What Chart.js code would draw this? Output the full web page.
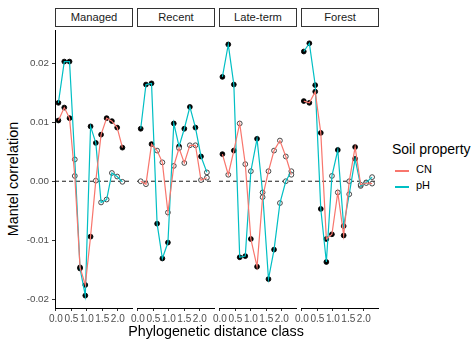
<!DOCTYPE html>
<html>
<head>
<meta charset="utf-8">
<script src="https://cdn.jsdelivr.net/npm/chart.js@4.4.0/dist/chart.umd.min.js"></script>
<style>
  body { margin: 0; background: #fff; font-family: 'Liberation Sans', Arial, sans-serif; }
  #wrap { position: relative; width: 475px; height: 342px; overflow: hidden; }
  canvas { position: absolute; }
  .strip { position: absolute; top: 8px; height: 17px; width: 76px; border: 1px solid #333; background: #fff;
           font-size: 11.2px; line-height: 17px; text-align: center; color: #1a1a1a; }
  .ytitle { position: absolute; left: 13px; top: 179px; transform: translate(-50%, -50%) rotate(-90deg);
            font-size: 14.4px; white-space: nowrap; color: #000; }
  .xtitle { position: absolute; left: 216px; top: 331px; transform: translate(-50%, -50%);
            font-size: 14.3px; white-space: nowrap; color: #000; }
  .legtitle { position: absolute; left: 392px; top: 141px; font-size: 14px; color: #000; white-space: nowrap; }
  .key { position: absolute; left: 395px; width: 14px; height: 1.5px; }
  .keylab { position: absolute; left: 416px; font-size: 11px; color: #000; }
</style>
</head>
<body>
<div id="wrap">
  <div class="ytitle">Mantel correlation</div>
  <div class="strip" style="left:55px">Managed</div>
  <div class="strip" style="left:137px">Recent</div>
  <div class="strip" style="left:219px">Late-term</div>
  <div class="strip" style="left:301px">Forest</div>
  <canvas id="p0"></canvas>
  <canvas id="p1"></canvas>
  <canvas id="p2"></canvas>
  <canvas id="p3"></canvas>
  <div class="xtitle">Phylogenetic distance class</div>
  <div class="legtitle">Soil property</div>
  <div class="key" style="top:170px;background:#F8766D"></div>
  <div class="keylab" style="top:163px">CN</div>
  <div class="key" style="top:186px;background:#00BFC4"></div>
  <div class="keylab" style="top:179px">pH</div>
</div>
<script>
const panelNames = ['Managed', 'Recent', 'Late-term', 'Forest'];
const xTicks = [0, 0.5, 1, 1.5, 2];
const yTicks = [-0.02, -0.01, 0, 0.01, 0.02];

// Managed
const distManaged = [0.08, 0.27, 0.44, 0.61, 0.78, 0.95, 1.12, 1.29, 1.46, 1.64, 1.81, 1.98, 2.15];
const cnManaged = [0.0103, 0.0125, 0.0107, 0.0009, -0.0146, -0.0176, -0.0094, 0.0001, 0.0079, 0.0107, 0.0102, 0.0091, 0.0057];
const cnSigManaged = [1, 1, 1, 0, 1, 1, 1, 0, 1, 1, 1, 1, 1];
const phManaged = [0.0133, 0.0203, 0.0203, 0.0037, -0.0148, -0.0194, 0.0093, 0.0065, -0.0036, -0.0031, 0.0014, 0.0008, -0.0001];
const phSigManaged = [1, 1, 1, 0, 1, 1, 1, 1, 0, 0, 0, 0, 0];

// Recent
const distRecent = [0.09, 0.26, 0.44, 0.62, 0.79, 0.97, 1.16, 1.33, 1.50, 1.68, 1.86, 2.04, 2.23];
const cnRecent = [0, -0.0005, 0.0063, 0.0052, 0.0032, -0.0053, 0.0026, 0.0056, 0.0031, 0.0061, 0.0061, 0.0002, 0.0006];
const cnSigRecent = [0, 0, 1, 0, 0, 0, 0, 0, 0, 0, 0, 0, 0];
const phRecent = [0.0089, 0.0164, 0.0166, -0.0072, -0.0131, -0.0104, 0.0098, 0.0059, 0.0089, 0.0126, 0.0091, 0.0042, 0.0015];
const phSigRecent = [1, 1, 1, 1, 1, 1, 1, 1, 1, 1, 1, 1, 0];

// Late-term
const distLate = [0.08, 0.27, 0.45, 0.64, 0.82, 1.00, 1.20, 1.38, 1.57, 1.75, 1.94, 2.13, 2.31];
const cnLate = [0.0046, 0.0011, 0.0052, 0.0098, 0.0029, -0.0098, -0.0145, -0.0027, 0.0017, 0.0052, 0.0069, 0.0042, 0.0011];
const cnSigLate = [1, 0, 1, 0, 0, 1, 1, 0, 0, 0, 0, 0, 0];
const phLate = [0.0177, 0.0232, 0.0164, -0.0129, -0.0127, 0.0017, 0.0072, -0.0019, -0.0166, -0.0116, -0.0037, 0, 0.0017];
const phSigLate = [1, 1, 1, 1, 1, 0, 1, 0, 1, 1, 0, 0, 0];

// Forest
const distForest = [0.06, 0.24, 0.43, 0.61, 0.79, 0.97, 1.16, 1.35, 1.53, 1.72, 1.90, 2.08, 2.27];
const cnForest = [0.0136, 0.0133, 0.0152, 0.0082, -0.0098, -0.009, -0.0019, -0.0092, 0, 0.0058, -0.0006, -0.0003, -0.0004];
const cnSigForest = [1, 1, 1, 1, 1, 1, 0, 1, 0, 1, 0, 0, 0];
const phForest = [0.022, 0.0234, 0.0163, -0.0047, -0.0137, 0.0009, 0.0053, -0.0076, -0.0022, 0.0038, -0.0008, -0.0002, 0.0007];
const phSigForest = [1, 1, 1, 1, 1, 0, 1, 1, 0, 1, 0, 0, 0];

const panels = [
	{ dist: distManaged, cn: cnManaged, cnSig: cnSigManaged, ph: phManaged, phSig: phSigManaged },
	{ dist: distRecent, cn: cnRecent, cnSig: cnSigRecent, ph: phRecent, phSig: phSigRecent },
	{ dist: distLate, cn: cnLate, cnSig: cnSigLate, ph: phLate, phSig: phSigLate },
	{ dist: distForest, cn: cnForest, cnSig: cnSigForest, ph: phForest, phSig: phSigForest },
];

const CN_COLOR = '#F8766D';
const PH_COLOR = '#00BFC4';
const panelLeft = [55, 137, 219, 301];
const panelW = 77;
const yAxisW = 40;
const margin = 8;

const zeroLine = {
	id: 'zeroLine',
	beforeDatasetsDraw(chart) {
		const { ctx, chartArea, scales } = chart;
		const y = scales.y.getPixelForValue(0);
		ctx.save();
		ctx.strokeStyle = '#000';
		ctx.lineWidth = 0.9;
		ctx.setLineDash([4, 3]);
		ctx.beginPath();
		ctx.moveTo(chartArea.left, y);
		ctx.lineTo(chartArea.right, y);
		ctx.stroke();
		ctx.restore();
	},
};

function toPoints(xs, ys) {
	return xs.map((x, i) => ({ x: x, y: ys[i] }));
}

function lineSet(xs, ys, color) {
	return {
		data: toPoints(xs, ys),
		showLine: true,
		borderColor: color,
		borderWidth: 1.2,
		pointRadius: 0,
		tension: 0,
	};
}

function pointSet(xs, ys, sig) {
	return {
		data: toPoints(xs, ys),
		showLine: false,
		pointRadius: 2.4,
		pointBorderWidth: 0.9,
		pointBackgroundColor: sig.map((s) => (s ? '#000' : '#fff')),
		pointBorderColor: sig.map((s) => (s ? '#000' : '#333')),
	};
}

panels.forEach((p, i) => {
	const canvas = document.getElementById('p' + i);
	const first = i === 0;
	const left = first ? panelLeft[i] - yAxisW : panelLeft[i] - margin;
	const width = panelW + (first ? yAxisW : margin) + margin;
	canvas.width = width;
	canvas.height = 302;
	canvas.style.left = left + 'px';
	canvas.style.top = '26px';

	new Chart(canvas.getContext('2d'), {
		type: 'scatter',
		data: {
			datasets: [
				lineSet(p.dist, p.cn, CN_COLOR),
				lineSet(p.dist, p.ph, PH_COLOR),
				pointSet(p.dist, p.cn, p.cnSig),
				pointSet(p.dist, p.ph, p.phSig),
			],
		},
		options: {
			responsive: false,
			animation: false,
			devicePixelRatio: 1,
			layout: { padding: { left: first ? 0 : margin, right: margin, top: 0, bottom: 0 } },
			plugins: { legend: { display: false }, tooltip: { enabled: false } },
			scales: {
				x: {
					type: 'linear',
					min: -0.03,
					max: 2.46,
					afterBuildTicks: (scale) => {
						scale.ticks = xTicks.map((v) => ({ value: v }));
					},
					afterFit: (scale) => {
						scale.height = 20;
						scale.paddingLeft = 0;
						scale.paddingRight = 0;
					},
					ticks: {
						autoSkip: false,
						minRotation: 0,
						maxRotation: 0,
						padding: 2,
						color: '#4D4D4D',
						font: { family: 'Liberation Sans', size: 10 },
						callback: (v) => Number(v).toFixed(1),
					},
					grid: { drawOnChartArea: false, drawTicks: true, tickLength: 3, color: '#333', lineWidth: 1 },
					border: { display: true, color: '#000', width: 1 },
				},
				y: {
					type: 'linear',
					display: first,
					min: -0.0215,
					max: 0.0255,
					afterBuildTicks: (scale) => {
						scale.ticks = yTicks.map((v) => ({ value: v }));
					},
					afterFit: (scale) => {
						if (first) scale.width = yAxisW;
						scale.paddingTop = 0;
						scale.paddingBottom = 0;
					},
					ticks: {
						padding: 3,
						color: '#4D4D4D',
						font: { family: 'Liberation Sans', size: 9.8 },
						callback: (v) => Number(v).toFixed(2),
					},
					grid: { drawOnChartArea: false, drawTicks: true, tickLength: 3, color: '#333', lineWidth: 1 },
					border: { display: true, color: '#000', width: 1 },
				},
			},
		},
		plugins: [zeroLine],
	});
});
</script>
</body>
</html>
